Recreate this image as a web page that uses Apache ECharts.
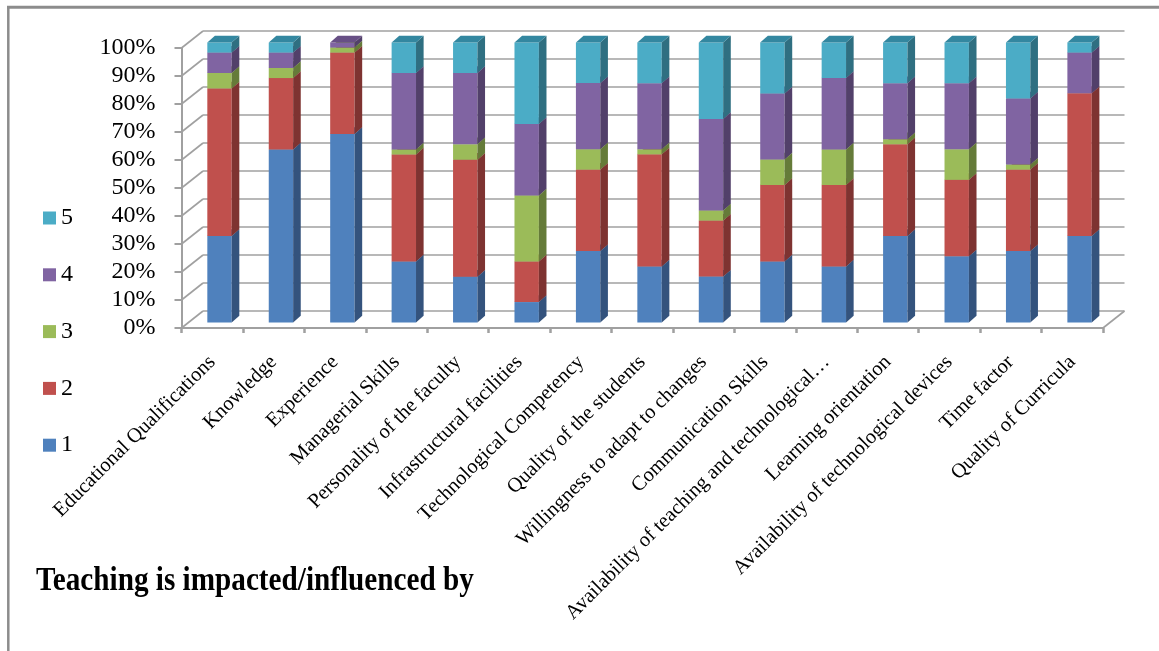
<!DOCTYPE html>
<html>
<head>
<meta charset="utf-8">
<title>Teaching is impacted/influenced by</title>
<script src="https://cdn.jsdelivr.net/npm/echarts@6.0.0/dist/echarts.min.js"></script>
<style>
  html, body { margin: 0; padding: 0; background: #ffffff; }
  #chart { width: 1159px; height: 651px; }
</style>
</head>
<body>
<div id="chart"></div>
<script>
// Factors that influence teaching
const categories = [
  'Educational Qualifications',
  'Knowledge',
  'Experience',
  'Managerial Skills',
  'Personality of the faculty',
  'Infrastructural facilities',
  'Technological Competency',
  'Quality of the students',
  'Willingness to adapt to changes',
  'Communication Skills',
  'Availability of teaching and technological…',
  'Learning orientation',
  'Availability of technological devices',
  'Time factor',
  'Quality of Curricula'
];

// Share of responses (%) at each rating level, one value per factor
const level1 = [30.9, 61.8, 67.3, 21.8, 16.4, 7.3, 25.5, 20.0, 16.4, 21.8, 20.0, 30.9, 23.6, 25.5, 30.9];
const level2 = [52.7, 25.5, 29.1, 38.2, 41.8, 14.5, 29.1, 40.0, 20.0, 27.3, 29.1, 32.7, 27.3, 29.1, 50.9];
const level3 = [5.5, 3.6, 1.8, 1.8, 5.5, 23.6, 7.3, 1.8, 3.6, 9.1, 12.7, 1.8, 10.9, 1.8, 0];
const level4 = [7.3, 5.5, 1.8, 27.3, 25.5, 25.5, 23.6, 23.6, 32.7, 23.6, 25.5, 20.0, 23.6, 23.6, 14.5];
const level5 = [3.6, 3.6, 0, 10.9, 10.9, 29.1, 14.5, 14.5, 27.3, 18.2, 12.7, 14.5, 14.5, 20.0, 3.6];

const levelNames = ['1', '2', '3', '4', '5'];
const yTickValues = [0, 10, 20, 30, 40, 50, 60, 70, 80, 90, 100];
const titleText = 'Teaching is impacted/influenced by';

// Face colours per level: front, side, top
const palette = [
  { front: '#4F81BD', side: '#34537D', top: '#3E6799' },
  { front: '#C0504D', side: '#7E3331', top: '#9C403E' },
  { front: '#9BBB59', side: '#657B39', top: '#7E9A47' },
  { front: '#8064A2', side: '#52406A', top: '#674F85' },
  { front: '#4BACC6', side: '#2F6F81', top: '#3387A0' }
];

const SERIF = '"Liberation Serif", "Times New Roman", serif';
const GRID_COLOR = '#a0a0a0';

// Pseudo-3D geometry (pixels)
const WALL_DX = 21.5, WALL_DY = -17;   // back wall offset from the front axes
const BAR_W = 24.4;                    // front face width
const BAR_DX = 7.6, BAR_DY = -6.7;     // bar depth
const BAR_SHIFT_X = 7.3, BAR_SHIFT_Y = -5.5; // bars stand mid-way in the floor

// 100% stacking: each factor normalised to its own total
const levels = [level1, level2, level3, level4, level5];
const totals = categories.map((_, i) => levels.reduce((s, arr) => s + arr[i], 0));
const stackedData = [];
{
  const running = categories.map(() => 0);
  levels.forEach((arr) => {
    stackedData.push(arr.map((v, i) => {
      const lo = running[i];
      running[i] += v / totals[i] * 100;
      return [i, lo, running[i]];
    }));
  });
}

function barRenderer(colors) {
  return function (params, api) {
    const i = api.value(0), lo = api.value(1), hi = api.value(2);
    if (hi - lo <= 0.0001) return null;
    const a = api.coord([i, lo]);
    const b = api.coord([i, hi]);
    const x0 = a[0] + BAR_SHIFT_X - BAR_W / 2;
    const x1 = x0 + BAR_W;
    const yb = a[1] + BAR_SHIFT_Y;
    const yt = b[1] + BAR_SHIFT_Y;
    return {
      type: 'group',
      children: [
        { type: 'rect', shape: { x: x0, y: yt, width: BAR_W, height: yb - yt }, style: { fill: colors.front } },
        { type: 'polygon', shape: { points: [[x1, yb], [x1 + BAR_DX, yb + BAR_DY], [x1 + BAR_DX, yt + BAR_DY], [x1, yt]] }, style: { fill: colors.side } },
        { type: 'polygon', shape: { points: [[x0, yt], [x1, yt], [x1 + BAR_DX, yt + BAR_DY], [x0 + BAR_DX, yt + BAR_DY]] }, style: { fill: colors.top } }
      ]
    };
  };
}

// Side wall and floor edges joining the front axes to the back wall
function wallRenderer(params, api) {
  const v = api.value(0);
  const half = api.size([1, 0])[0] / 2;
  const p = api.coord([0, v]);
  const xl = p[0] - half;
  const children = [
    { type: 'line', shape: { x1: xl, y1: p[1], x2: xl + WALL_DX, y2: p[1] + WALL_DY }, style: { stroke: GRID_COLOR, lineWidth: 1.6 } }
  ];
  if (v === 0) {
    const q = api.coord([categories.length - 1, 0]);
    const xr = q[0] + half;
    children.push({ type: 'line', shape: { x1: xr, y1: q[1], x2: xr + WALL_DX, y2: q[1] + WALL_DY }, style: { stroke: GRID_COLOR, lineWidth: 1.6 } });
  }
  return { type: 'group', children };
}

const chart = echarts.init(document.getElementById('chart'), null, { renderer: 'canvas' });

const frontGrid = { left: 181.5, right: 56, top: 48, bottom: 323 };
const backGrid = {
  left: frontGrid.left + WALL_DX,
  right: frontGrid.right - WALL_DX,
  top: frontGrid.top + WALL_DY,
  bottom: frontGrid.bottom - WALL_DY
};

const series = [
  {
    type: 'custom',
    name: 'walls',
    xAxisIndex: 0,
    yAxisIndex: 0,
    silent: true,
    renderItem: wallRenderer,
    data: yTickValues.map((v) => [v]),
    encode: { y: 0 },
    z: 1
  }
];
levelNames.forEach((name, k) => {
  series.push({
    type: 'custom',
    name: name,
    xAxisIndex: 0,
    yAxisIndex: 0,
    renderItem: barRenderer(palette[k]),
    itemStyle: { color: palette[k].front },
    encode: { x: 0, y: [1, 2] },
    data: stackedData[k],
    z: 2 + k
  });
});

const legendText = { fontFamily: SERIF, fontSize: 24, color: '#000' };

chart.setOption({
  backgroundColor: '#ffffff',
  animation: false,
  legend: {
    orient: 'vertical',
    left: 43,
    top: 206,
    padding: 0,
    icon: 'rect',
    itemWidth: 13,
    itemHeight: 13,
    itemGap: 32.8,
    data: ['5', '4', '3', '2', '1'].map((n) => ({ name: n, textStyle: legendText })),
    textStyle: legendText,
    selectedMode: false
  },
  grid: [
    Object.assign({ containLabel: false }, frontGrid),
    Object.assign({ containLabel: false }, backGrid)
  ],
  xAxis: [
    {
      type: 'category',
      gridIndex: 0,
      data: categories,
      boundaryGap: true,
      axisLine: { show: true, lineStyle: { color: '#a0a0a0', width: 2 } },
      axisTick: { show: true, length: 5, lineStyle: { color: '#a0a0a0', width: 2.5 } },
      axisLabel: {
        interval: 0,
        rotate: 45,
        margin: 31,
        fontFamily: SERIF,
        fontSize: 20.5,
        color: '#000'
      },
      splitLine: { show: false }
    },
    {
      type: 'category',
      gridIndex: 1,
      data: categories,
      show: false
    }
  ],
  yAxis: [
    {
      type: 'value',
      gridIndex: 0,
      min: 0,
      max: 100,
      interval: 10,
      axisLine: { show: true, lineStyle: { color: '#a0a0a0', width: 2 } },
      axisTick: { show: true, length: 7, lineStyle: { color: '#a0a0a0', width: 2 } },
      axisLabel: {
        margin: 26,
        formatter: '{value}%',
        fontFamily: SERIF,
        fontSize: 24,
        color: '#000'
      },
      splitLine: { show: false }
    },
    {
      type: 'value',
      gridIndex: 1,
      min: 0,
      max: 100,
      interval: 10,
      axisLine: { show: false },
      axisTick: { show: false },
      axisLabel: { show: false },
      splitLine: { show: true, lineStyle: { color: GRID_COLOR, width: 1.6 } }
    }
  ],
  graphic: [
    // outer frame: top and left edges
    { type: 'line', shape: { x1: 7, y1: 7.3, x2: 1159, y2: 7.3 }, style: { stroke: '#8c8c8c', lineWidth: 3 }, silent: true },
    { type: 'line', shape: { x1: 8.3, y1: 6, x2: 8.3, y2: 651 }, style: { stroke: '#8c8c8c', lineWidth: 2.5 }, silent: true },
    {
      type: 'text',
      x: 36,
      y: 581,
      scaleX: 0.885,
      style: {
        text: titleText,
        font: 'bold 33px ' + SERIF,
        fill: '#000',
        verticalAlign: 'middle'
      },
      silent: true
    }
  ],
  series: series
});
</script>
</body>
</html>
